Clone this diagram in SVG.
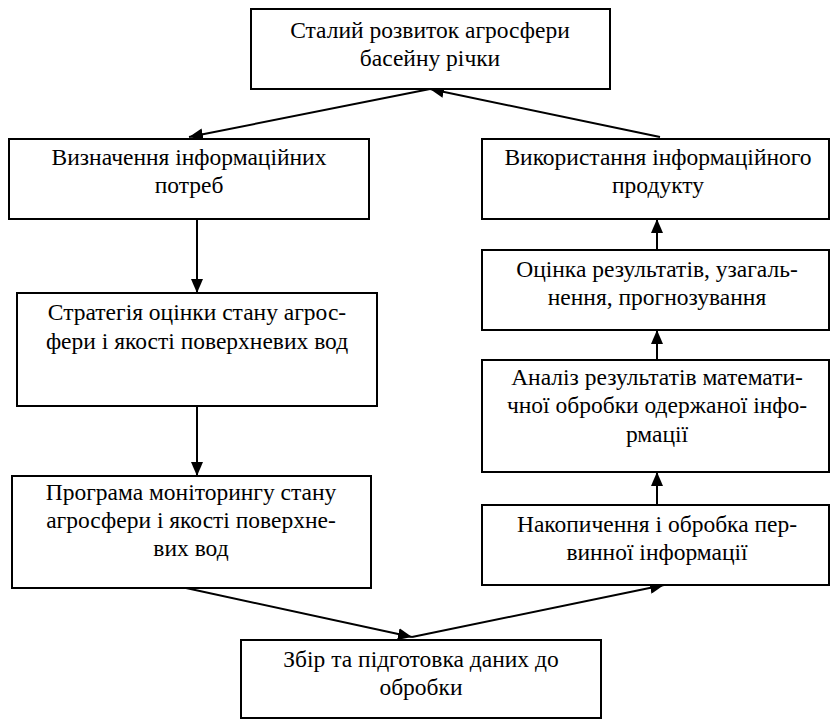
<svg xmlns="http://www.w3.org/2000/svg" width="832" height="720" viewBox="0 0 832 720">
<style>
.box{fill:#fff;stroke:#000;stroke-width:2}
.c{stroke:#000;stroke-width:2;fill:none}
.t{font-family:"Liberation Serif","Times New Roman",serif;font-size:23.5px;text-anchor:middle;fill:#000}
</style>
<defs>
<marker id="ah" viewBox="0 0 14 12" refX="14" refY="6" markerWidth="14" markerHeight="12" markerUnits="userSpaceOnUse" orient="auto">
<path d="M0,0 L14,6 L0,12 Z" fill="#000"/>
</marker>
</defs>
<rect width="832" height="720" fill="#fff"/>
<g id="connectors">
<line class="c" x1="430" y1="89" x2="189" y2="137" marker-end="url(#ah)"/>
<line class="c" x1="660" y1="137" x2="430" y2="89" marker-end="url(#ah)"/>
<line class="c" x1="197" y1="219" x2="197" y2="293" marker-end="url(#ah)"/>
<line class="c" x1="197" y1="406" x2="197" y2="476" marker-end="url(#ah)"/>
<line class="c" x1="186" y1="588" x2="412" y2="637" marker-end="url(#ah)"/>
<line class="c" x1="412" y1="637" x2="664" y2="585" marker-end="url(#ah)"/>
<line class="c" x1="657" y1="505" x2="657" y2="472" marker-end="url(#ah)"/>
<line class="c" x1="657" y1="360" x2="657" y2="330" marker-end="url(#ah)"/>
<line class="c" x1="657" y1="250" x2="657" y2="219" marker-end="url(#ah)"/>
</g>
<g id="n1">
<rect class="box" x="251" y="9" width="359" height="80"/>
<text class="t" x="430" y="38">Сталий розвиток агросфери</text>
<text class="t" x="430" y="66">басейну річки</text>
</g>
<g id="n2">
<rect class="box" x="9" y="139" width="360" height="80"/>
<text class="t" x="189" y="165">Визначення інформаційних</text>
<text class="t" x="189" y="193">потреб</text>
</g>
<g id="n3">
<rect class="box" x="17" y="293" width="360" height="113"/>
<text class="t" x="197" y="320">Стратегія оцінки стану агрос-</text>
<text class="t" x="197" y="349">фери і якості поверхневих вод</text>
</g>
<g id="n4">
<rect class="box" x="12" y="476" width="359" height="112"/>
<text class="t" x="191" y="500">Програма моніторингу стану</text>
<text class="t" x="191" y="528">агросфери і якості поверхне-</text>
<text class="t" x="191" y="556">вих вод</text>
</g>
<g id="n5">
<rect class="box" x="241" y="640" width="360" height="78"/>
<text class="t" x="421" y="667">Збір та підготовка даних до</text>
<text class="t" x="421" y="695">обробки</text>
</g>
<g id="n6">
<rect class="box" x="482" y="505" width="347" height="80"/>
<text class="t" x="657" y="532">Накопичення і обробка пер-</text>
<text class="t" x="657" y="560">винної інформації</text>
</g>
<g id="n7">
<rect class="box" x="482" y="360" width="347" height="112"/>
<text class="t" x="657" y="385">Аналіз результатів математи-</text>
<text class="t" x="657" y="413">чної обробки одержаної інфо-</text>
<text class="t" x="657" y="442">рмації</text>
</g>
<g id="n8">
<rect class="box" x="482" y="250" width="347" height="80"/>
<text class="t" x="657" y="277">Оцінка результатів, узагаль-</text>
<text class="t" x="657" y="305">нення, прогнозування</text>
</g>
<g id="n9">
<rect class="box" x="482" y="139" width="347" height="80"/>
<text class="t" x="658" y="165">Використання інформаційного</text>
<text class="t" x="658" y="193">продукту</text>
</g>
</svg>
